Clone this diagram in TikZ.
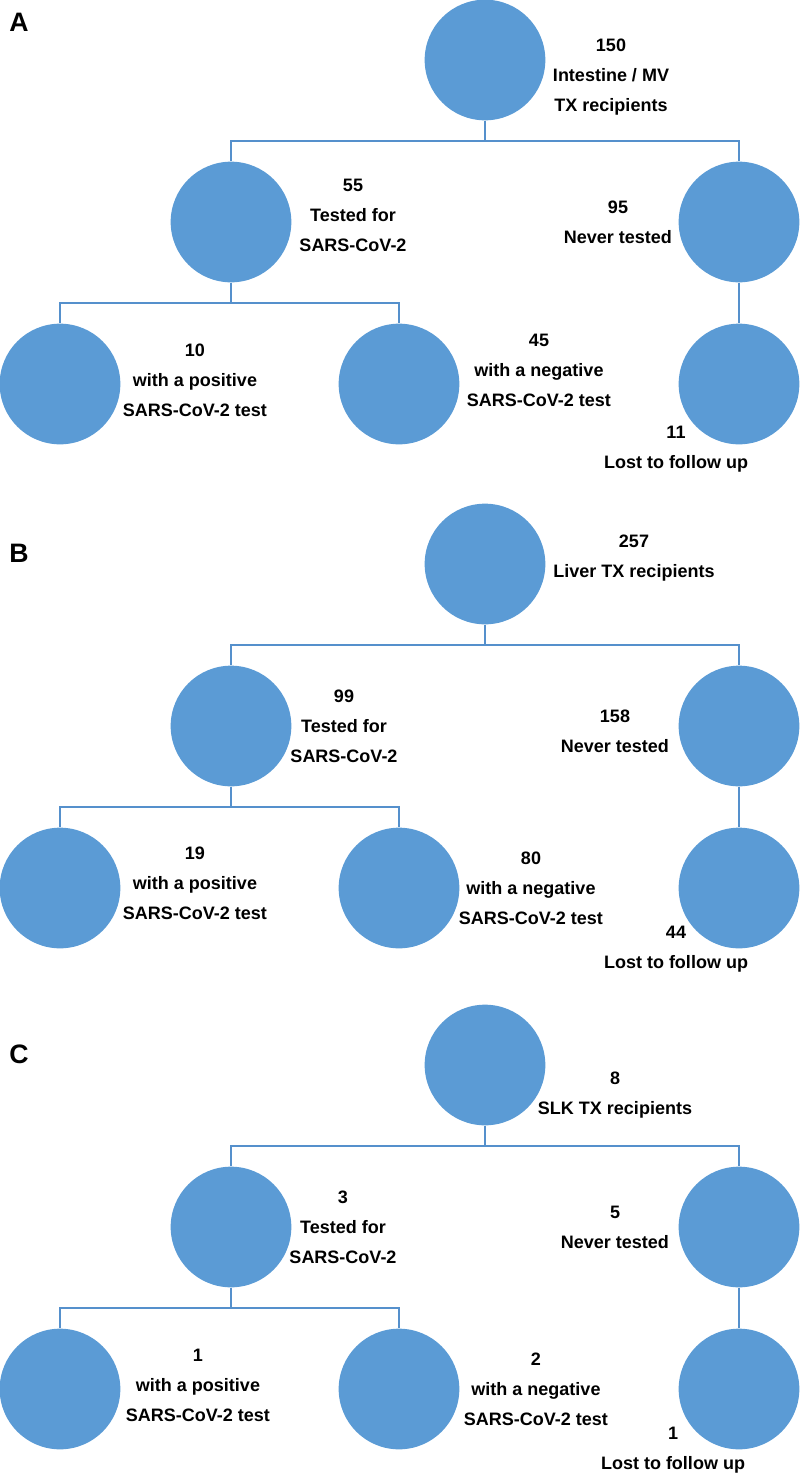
\documentclass[tikz,border=0pt]{standalone}
\usepackage{fontspec}
\setmainfont{Liberation Sans}
\definecolor{circblue}{HTML}{5B9BD5}
\definecolor{lineblue}{HTML}{5590CC}

\begin{document}
\begin{tikzpicture}[x=0.75pt, y=-0.75pt, main/.style={circle, fill=circblue, minimum size=90.5pt, inner sep=0pt}, info/.style={align=center, font=\bfseries\fontsize{13.5}{22.5}\selectfont}, panel/.style={font=\bfseries\fontsize{20}{24}\selectfont}, n/.style={draw=lineblue, line width=1.5pt}]
        \useasboundingbox (0,0) rectangle (800,1475);
        % panel A
        \begin{scope}
        % nodes
        \node[panel] (pA) at (19,22) {A};
        \node[main] (A0) at (485,60) {};
        \node[main] (A1) at (231,222) {};
        \node[main] (A2) at (739,222) {};
        \node[main] (A3) at (60,384) {};
        \node[main] (A4) at (399,384) {};
        \node[main] (A5) at (739,384) {};
        % texts
        \node[info] (tA0) at (611,77) {150\\Intestine / MV\\TX recipients};
        \node[info] (tA1) at (353,215) {55\\Tested for\\SARS-CoV-2};
        \node[info] (tA2) at (618,222.5) {95\\Never tested};
        \node[info] (tA3) at (195,380) {10\\with a positive\\SARS-CoV-2 test};
        \node[info] (tA4) at (539,370) {45\\with a negative\\SARS-CoV-2 test};
        \node[info] (tA5) at (676,449) {11\\Lost to follow up};
        % edges
        \draw [n] (A0.south) -- ++(0,20) -| (A1.north);
        \draw [n] (A0.south) -- ++(0,20) -| (A2.north);
        \draw [n] (A1.south) -- ++(0,20) -| (A3.north);
        \draw [n] (A1.south) -- ++(0,20) -| (A4.north);
        \draw [n] (A2.south) -- (A5.north);
        \end{scope}
        % panel B
        \begin{scope}[shift={(0,504)}]
        % nodes
        \node[panel] (pB) at (19,49) {B};
        \node[main] (B0) at (485,60) {};
        \node[main] (B1) at (231,222) {};
        \node[main] (B2) at (739,222) {};
        \node[main] (B3) at (60,384) {};
        \node[main] (B4) at (399,384) {};
        \node[main] (B5) at (739,384) {};
        % texts
        \node[info] (tB0) at (634,54) {257\\Liver TX recipients};
        \node[info] (tB1) at (344,222) {99\\Tested for\\SARS-CoV-2};
        \node[info] (tB2) at (615,227.5) {158\\Never tested};
        \node[info] (tB3) at (195,379) {19\\with a positive\\SARS-CoV-2 test};
        \node[info] (tB4) at (531,384) {80\\with a negative\\SARS-CoV-2 test};
        \node[info] (tB5) at (676,445) {44\\Lost to follow up};
        % edges
        \draw [n] (B0.south) -- ++(0,20) -| (B1.north);
        \draw [n] (B0.south) -- ++(0,20) -| (B2.north);
        \draw [n] (B1.south) -- ++(0,20) -| (B3.north);
        \draw [n] (B1.south) -- ++(0,20) -| (B4.north);
        \draw [n] (B2.south) -- (B5.north);
        \end{scope}
        % panel C
        \begin{scope}[shift={(0,1005)}]
        % nodes
        \node[panel] (pC) at (19,49) {C};
        \node[main] (C0) at (485,60) {};
        \node[main] (C1) at (231,222) {};
        \node[main] (C2) at (739,222) {};
        \node[main] (C3) at (60,384) {};
        \node[main] (C4) at (399,384) {};
        \node[main] (C5) at (739,384) {};
        % texts
        \node[info] (tC0) at (615,90) {8\\SLK TX recipients};
        \node[info] (tC1) at (343,222) {3\\Tested for\\SARS-CoV-2};
        \node[info] (tC2) at (615,222) {5\\Never tested};
        \node[info] (tC3) at (198,380) {1\\with a positive\\SARS-CoV-2 test};
        \node[info] (tC4) at (536,384) {2\\with a negative\\SARS-CoV-2 test};
        \node[info] (tC5) at (673,445) {1\\Lost to follow up};
        % edges
        \draw [n] (C0.south) -- ++(0,20) -| (C1.north);
        \draw [n] (C0.south) -- ++(0,20) -| (C2.north);
        \draw [n] (C1.south) -- ++(0,20) -| (C3.north);
        \draw [n] (C1.south) -- ++(0,20) -| (C4.north);
        \draw [n] (C2.south) -- (C5.north);
        \end{scope}
    \end{tikzpicture}
\end{document}
